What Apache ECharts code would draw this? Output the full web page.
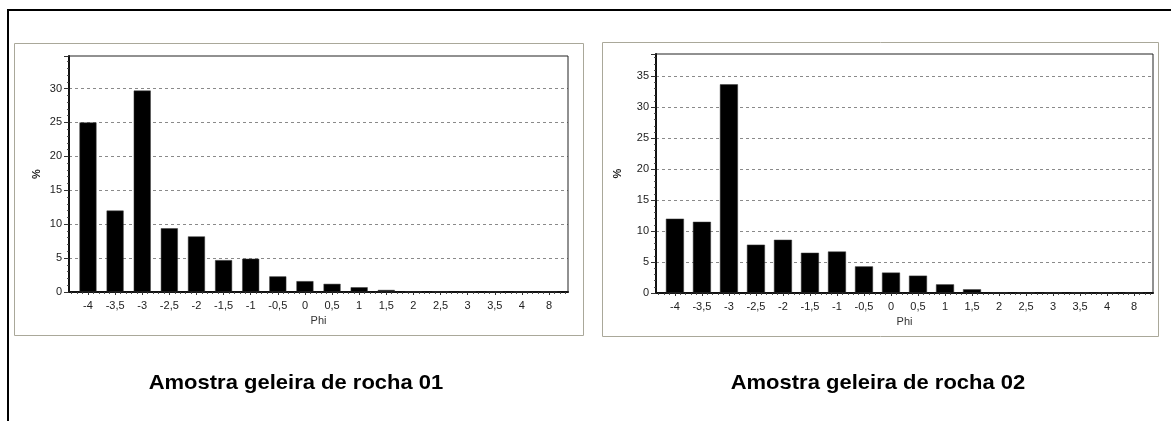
<!DOCTYPE html>
<html>
<head>
<meta charset="utf-8">
<title>Amostras geleira de rocha</title>
<script src="https://cdn.jsdelivr.net/npm/echarts@6/dist/echarts.min.js"></script>
<style>
  html, body { margin: 0; padding: 0; background: #ffffff; }
  #chart { width: 1171px; height: 421px; }
</style>
</head>
<body>
<div id="chart"></div>
<script>
// Phi classes (x categories) and grain-size percentages of each sample
const phiLabels = ['-4', '-3,5', '-3', '-2,5', '-2', '-1,5', '-1', '-0,5', '0', '0,5', '1', '1,5', '2', '2,5', '3', '3,5', '4', '8'];
const amostra01 = [25.0, 12.0, 29.7, 9.4, 8.2, 4.7, 4.9, 2.3, 1.6, 1.2, 0.7, 0.3, 0.05, 0.05, 0.05, 0.05, 0.05, 0.05];
const amostra02 = [12.0, 11.5, 33.7, 7.8, 8.6, 6.5, 6.7, 4.3, 3.3, 2.8, 1.4, 0.6, 0.05, 0.05, 0.05, 0.05, 0.05, 0.05];
const titles = ['Amostra geleira de rocha 01', 'Amostra geleira de rocha 02'];
const yTicks = [0, 5, 10, 15, 20, 25, 30, 35];

const FONT = '"Liberation Sans", Arial, sans-serif';
const xMin = -0.7, xMax = phiLabels.length - 0.3;

// tick positions: one major tick per class, five sub-divisions between
const majorTicks = phiLabels.map((_, i) => i);
const minorTicks = [];
for (let k = Math.ceil(xMin * 5); k <= Math.floor(xMax * 5); k++) {
  if (k % 5 !== 0) minorTicks.push(k / 5);
}

const panels = [
  { left: 69, top: 56, width: 499, height: 236, yMax: 34.8, nameGap: 27, barWidth: 17, data: amostra01 },
  { left: 656, top: 54, width: 497, height: 239, yMax: 38.6, nameGap: 33, barWidth: 18, data: amostra02 }
];

const grid = [], xAxis = [], yAxis = [], series = [];
panels.forEach((p, g) => {
  grid.push({
    left: p.left, top: p.top, width: p.width, height: p.height,
    show: true, borderColor: '#222', borderWidth: 1, backgroundColor: 'transparent', z: 3
  });
  // main x axis: class labels and major ticks
  xAxis.push({
    type: 'value', gridIndex: g, min: xMin, max: xMax,
    name: 'Phi', nameLocation: 'middle', nameGap: 21,
    nameTextStyle: { fontFamily: FONT, fontSize: 11, color: '#333' },
    axisLine: { show: true, onZero: false, lineStyle: { color: '#000', width: 2 } },
    axisTick: { show: true, customValues: majorTicks, length: 3, lineStyle: { color: '#333' } },
    axisLabel: {
      show: true, customValues: majorTicks, margin: 8,
      fontFamily: FONT, fontSize: 11, color: '#222',
      formatter: v => phiLabels[Math.round(v)] ?? ''
    },
    splitLine: { show: false }
  });
  // companion axis carrying the minor ticks
  xAxis.push({
    type: 'value', gridIndex: g, min: xMin, max: xMax, position: 'bottom',
    axisLine: { show: false, onZero: false },
    axisTick: { show: true, customValues: minorTicks, length: 2, lineStyle: { color: '#555' } },
    axisLabel: { show: false },
    splitLine: { show: false }
  });
  yAxis.push({
    type: 'value', gridIndex: g, min: 0, max: p.yMax, interval: 5,
    name: '%', nameLocation: 'middle', nameRotate: 90, nameGap: p.nameGap,
    nameTextStyle: { fontFamily: FONT, fontSize: 11, color: '#222', fontWeight: 'bold' },
    axisLine: { show: true, onZero: false, lineStyle: { color: '#000', width: 2 } },
    axisTick: { show: true, length: 5, lineStyle: { color: '#333' } },
    minorTick: { show: true, splitNumber: 5, length: 2, lineStyle: { color: '#555' } },
    axisLabel: {
      margin: 7, fontFamily: FONT, fontSize: 11, color: '#222',
      formatter: v => (yTicks.includes(v) ? String(v) : '')
    },
    splitLine: { show: true, showMinLine: false, showMaxLine: false,
      lineStyle: { color: '#8a8a8a', type: [3, 3], width: 1 } }
  });
  series.push({
    type: 'bar', xAxisIndex: g * 2, yAxisIndex: g,
    barWidth: p.barWidth,
    itemStyle: { color: '#000000', borderColor: '#3a3a3a', borderWidth: 0.5 },
    data: p.data.map((v, i) => [i, v]),
    silent: true, animation: false
  });
});

const chart = echarts.init(document.getElementById('chart'), null, { renderer: 'canvas' });
chart.setOption({
  backgroundColor: '#ffffff',
  animation: false,
  grid, xAxis, yAxis, series,
  graphic: [
    // outer document frame
    { type: 'polyline', z: -10, shape: { points: [[8, 421], [8, 10], [1171, 10]] },
      style: { stroke: '#000', lineWidth: 2, fill: null } },
    // light panel frames
    { type: 'rect', z: -10, shape: { x: 14.5, y: 43.5, width: 569, height: 292 },
      style: { stroke: '#aaa89a', lineWidth: 1, fill: null } },
    { type: 'rect', z: -10, shape: { x: 602.5, y: 42.5, width: 556, height: 294 },
      style: { stroke: '#aaa89a', lineWidth: 1, fill: null } },
    // sample captions
    { type: 'text', x: 296, y: 384, scaleY: 0.88,
      style: { text: titles[0], font: 'bold 22px ' + FONT, fill: '#000', align: 'center', verticalAlign: 'middle' } },
    { type: 'text', x: 878, y: 384, scaleY: 0.88,
      style: { text: titles[1], font: 'bold 22px ' + FONT, fill: '#000', align: 'center', verticalAlign: 'middle' } }
  ]
});
</script>
</body>
</html>
